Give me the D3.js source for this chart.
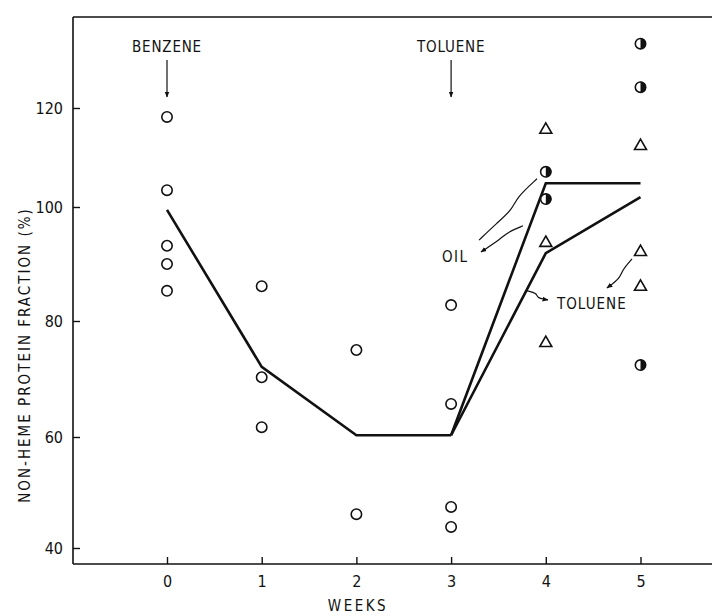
<!DOCTYPE html>
<html>
<head>
<meta charset="utf-8">
<script src="https://cdn.jsdelivr.net/npm/d3@7"></script>
<style>
  html, body { margin: 0; padding: 0; background: #fff; }
  svg text { font-family: "DejaVu Sans Condensed", "Liberation Sans Narrow", "DejaVu Sans", sans-serif; fill: #111; }
</style>
</head>
<body>
<svg id="chart" width="712" height="616"></svg>
<script>
// Weeks on the horizontal axis, percent on the vertical one
const weeks = [0, 1, 2, 3, 4, 5];
const yTicks = [40, 60, 80, 100, 120];

// Individual animals: benzene period (open circles)
const benzeneWeeks  = [0, 0, 0, 0, 0, 1, 1, 1, 2, 2, 3, 3, 3, 3];
const benzeneValues = [118.2, 103.4, 93.2, 90.0, 85.3, 86.1, 70.3, 61.7, 75.0, 46.1, 82.8, 65.7, 47.4, 43.8];

// Toluene-treated animals (triangles)
const tolueneWeeks  = [4, 4, 4, 5, 5, 5];
const tolueneValues = [115.6, 93.7, 76.2, 112.3, 92.1, 86.0];

// Oil controls (half-filled circles)
const oilWeeks  = [4, 4, 5, 5, 5];
const oilValues = [107.1, 101.6, 133.0, 124.2, 72.4];

// Group means
const meanWeeks     = [0, 1, 2, 3];
const meanValues    = [99.5, 72.1, 60.3, 60.3];
const oilLineWeeks  = [3, 4, 5];
const oilLineValues = [60.3, 104.8, 104.8];
const tolLineWeeks  = [3, 4, 5];
const tolLineValues = [60.3, 91.9, 102.0];

const svg = d3.select("#chart");

// the printed axis has slightly uneven tick spacing, so the scale is piecewise
const x = d3.scaleLinear().domain([0, 5]).range([167, 640.5]);
const y = d3.scaleLinear().domain([40, 60, 80, 100, 120]).range([548, 437, 321, 207, 108]);

const frame = { left: 73, top: 17, right: 712, bottom: 564 };

// frame: top rule, left axis, bottom axis
svg.append("line").attr("x1", frame.left).attr("x2", frame.right)
  .attr("y1", frame.top).attr("y2", frame.top)
  .attr("stroke", "#111").attr("stroke-width", 1.6);

const xAxis = d3.axisBottom(x).tickValues(weeks).tickFormat(d3.format("d"))
  .tickSizeInner(-7).tickSizeOuter(0).tickPadding(12);
const gx = svg.append("g").attr("transform", `translate(0,${frame.bottom})`).call(xAxis);
gx.select(".domain").attr("d", `M${frame.left},0H${frame.right}`).attr("stroke", "#111").attr("stroke-width", 1.6);
gx.selectAll(".tick line").attr("stroke", "#111").attr("stroke-width", 1.4);
gx.selectAll(".tick text").attr("font-size", 16).attr("fill", "#111");

const yAxis = d3.axisLeft(y).tickValues(yTicks).tickFormat(d3.format("d"))
  .tickSizeInner(-7).tickSizeOuter(0).tickPadding(10);
const gy = svg.append("g").attr("transform", `translate(${frame.left},0)`).call(yAxis);
gy.select(".domain").attr("d", `M0,${frame.top}V${frame.bottom}`).attr("stroke", "#111").attr("stroke-width", 1.6);
gy.selectAll(".tick line").attr("stroke", "#111").attr("stroke-width", 1.4);
gy.selectAll(".tick text").attr("font-size", 16).attr("fill", "#111");

// axis titles
svg.append("text").attr("x", 358).attr("y", 611)
  .attr("text-anchor", "middle").attr("font-size", 15).attr("letter-spacing", 2.5)
  .text("WEEKS");
svg.append("text")
  .attr("transform", "translate(30,355) rotate(-90)")
  .attr("text-anchor", "middle").attr("font-size", 15).attr("letter-spacing", 2)
  .text("NON-HEME  PROTEIN  FRACTION (%)");

// mean lines
const line = d3.line().x(d => x(d[0])).y(d => y(d[1]));
const drawLine = (ws, vs) => svg.append("path")
  .attr("d", line(d3.zip(ws, vs)))
  .attr("fill", "none").attr("stroke", "#111").attr("stroke-width", 2.6)
  .attr("stroke-linejoin", "miter");
drawLine(meanWeeks, meanValues);
drawLine(oilLineWeeks, oilLineValues);
drawLine(tolLineWeeks, tolLineValues);

// open circles
svg.append("g").selectAll("circle").data(d3.zip(benzeneWeeks, benzeneValues)).join("circle")
  .attr("cx", d => x(d[0])).attr("cy", d => y(d[1])).attr("r", 5.2)
  .attr("fill", "#fff").attr("stroke", "#111").attr("stroke-width", 1.6);

// triangles
const tri = d3.symbol().type(d3.symbolTriangle).size(62);
svg.append("g").selectAll("path").data(d3.zip(tolueneWeeks, tolueneValues)).join("path")
  .attr("d", tri)
  .attr("transform", d => `translate(${x(d[0])},${y(d[1])})`)
  .attr("fill", "#fff").attr("stroke", "#111").attr("stroke-width", 1.6);

// half-filled circles
const oilG = svg.append("g").selectAll("g").data(d3.zip(oilWeeks, oilValues)).join("g")
  .attr("transform", d => `translate(${x(d[0])},${y(d[1])})`);
oilG.append("circle").attr("r", 5.2).attr("fill", "#fff").attr("stroke", "#111").attr("stroke-width", 1.6);
oilG.append("path").attr("d", d3.arc()({ innerRadius: 0, outerRadius: 5.6, startAngle: 0, endAngle: Math.PI }))
  .attr("fill", "#111");

// arrowhead
svg.append("defs").append("marker").attr("id", "head").attr("viewBox", "0 0 10 10")
  .attr("refX", 9).attr("refY", 5).attr("markerWidth", 5).attr("markerHeight", 5)
  .attr("orient", "auto-start-reverse")
  .append("path").attr("d", "M0,1L10,5L0,9z").attr("fill", "#111");

// treatment labels with downward arrows
const treatLabels = ["BENZENE", "TOLUENE"];
const treatWeeks = [0, 3];
treatLabels.forEach((t, i) => {
  svg.append("text").attr("x", x(treatWeeks[i])).attr("y", 52)
    .attr("text-anchor", "middle").attr("font-size", 15).attr("letter-spacing", 0.8).text(t);
  svg.append("line").attr("x1", x(treatWeeks[i])).attr("x2", x(treatWeeks[i]))
    .attr("y1", 60).attr("y2", 97).attr("stroke", "#111").attr("stroke-width", 1.2)
    .attr("marker-end", "url(#head)");
});

// curly call-out arrows, given as (week, value)
const curve = d3.line().x(d => x(d[0])).y(d => y(d[1])).curve(d3.curveBasis);
const callouts = [
  { pts: [[3.907, 105.7], [3.696, 102.0], [3.643, 99.5], [3.485, 97.2], [3.295, 94.2]], head: false },
  { pts: [[3.759, 96.7], [3.601, 95.6], [3.538, 94.6], [3.316, 92.1]], head: true },
  { pts: [[3.80, 85.3], [3.907, 84.9], [3.907, 84.0], [4.023, 83.7]], head: true },
  { pts: [[4.91, 90.9], [4.805, 88.9], [4.784, 87.5], [4.646, 85.8]], head: true }
];
callouts.forEach(c => {
  svg.append("path").attr("d", curve(c.pts)).attr("fill", "none")
    .attr("stroke", "#111").attr("stroke-width", 1.2)
    .attr("marker-end", c.head ? "url(#head)" : null);
});

svg.append("text").attr("x", 442).attr("y", y(91.4) + 6).attr("font-size", 15).attr("letter-spacing", 1.5).text("OIL");
svg.append("text").attr("x", 557).attr("y", y(83.2) + 6).attr("font-size", 15).attr("letter-spacing", 1).text("TOLUENE");
</script>
</body>
</html>
